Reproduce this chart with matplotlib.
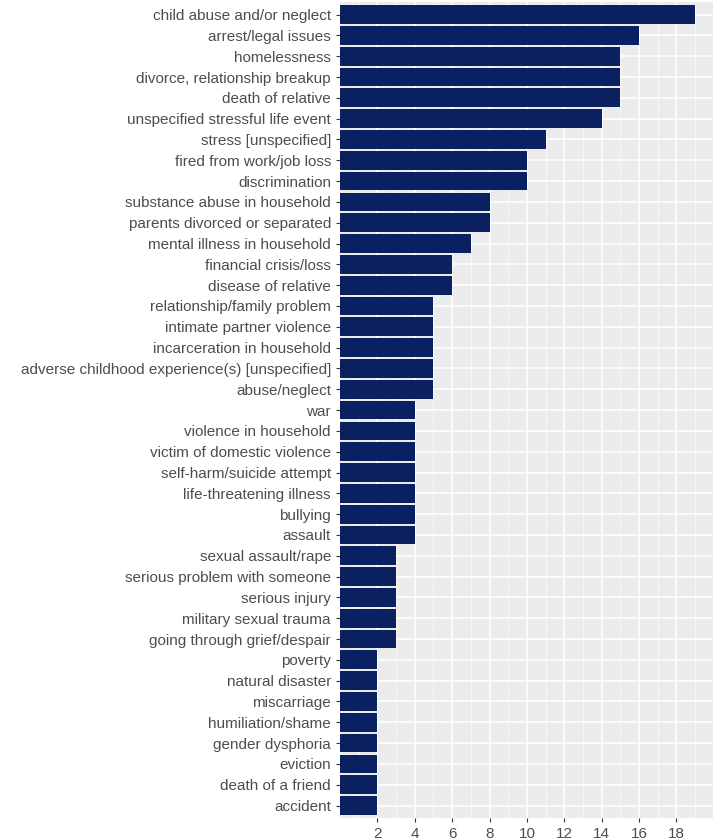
import matplotlib
matplotlib.use("Agg")
import matplotlib.pyplot as plt
from matplotlib.ticker import MultipleLocator

categories = ["child abuse and/or neglect","arrest/legal issues","homelessness","divorce, relationship breakup",
"death of relative","unspecified stressful life event","stress [unspecified]","fired from work/job loss",
"discrimination","substance abuse in household","parents divorced or separated","mental illness in household",
"financial crisis/loss","disease of relative","relationship/family problem","intimate partner violence",
"incarceration in household","adverse childhood experience(s) [unspecified]","abuse/neglect","war",
"violence in household","victim of domestic violence","self-harm/suicide attempt","life-threatening illness",
"bullying","assault","sexual assault/rape","serious problem with someone","serious injury",
"military sexual trauma","going through grief/despair","poverty","natural disaster","miscarriage",
"humiliation/shame","gender dysphoria","eviction","death of a friend","accident"]
values = [19,16,15,15,15,14,11,10,10,8,8,7,6,6,5,5,5,5,5,4,4,4,4,4,4,4,3,3,3,3,3,2,2,2,2,2,2,2,2]
xticks = [2,4,6,8,10,12,14,16,18]

plt.rcParams["font.family"] = "Liberation Sans"
fig = plt.figure(figsize=(7.15,8.39), dpi=100)
ax = fig.add_axes([0.4755, 0.025, 0.5215, 0.9725])
n = len(categories)
ypos = list(range(n-1, -1, -1))
ax.set_facecolor("#ebebeb")
ax.barh(ypos, values, height=0.9, color="#0a2060", zorder=3)
ax.set_ylim(-0.6, n-1+0.6)
ax.set_xlim(0, max(values)*1.05)
ax.set_yticks(ypos)
ax.set_yticklabels(categories)
ax.set_xticks(xticks)
ax.xaxis.set_minor_locator(MultipleLocator(1))
ax.grid(True, which="major", color="white", linewidth=1.1, zorder=0)
ax.grid(True, which="minor", axis="x", color="white", linewidth=0.5, zorder=0)
ax.set_axisbelow(True)
for s in ax.spines.values():
    s.set_visible(False)
ax.tick_params(which="both", length=3, color="#333333", labelsize=11, labelcolor="#4d4d4d")
ax.tick_params(which="minor", length=0)
fig.savefig("out.png", dpi=100)
